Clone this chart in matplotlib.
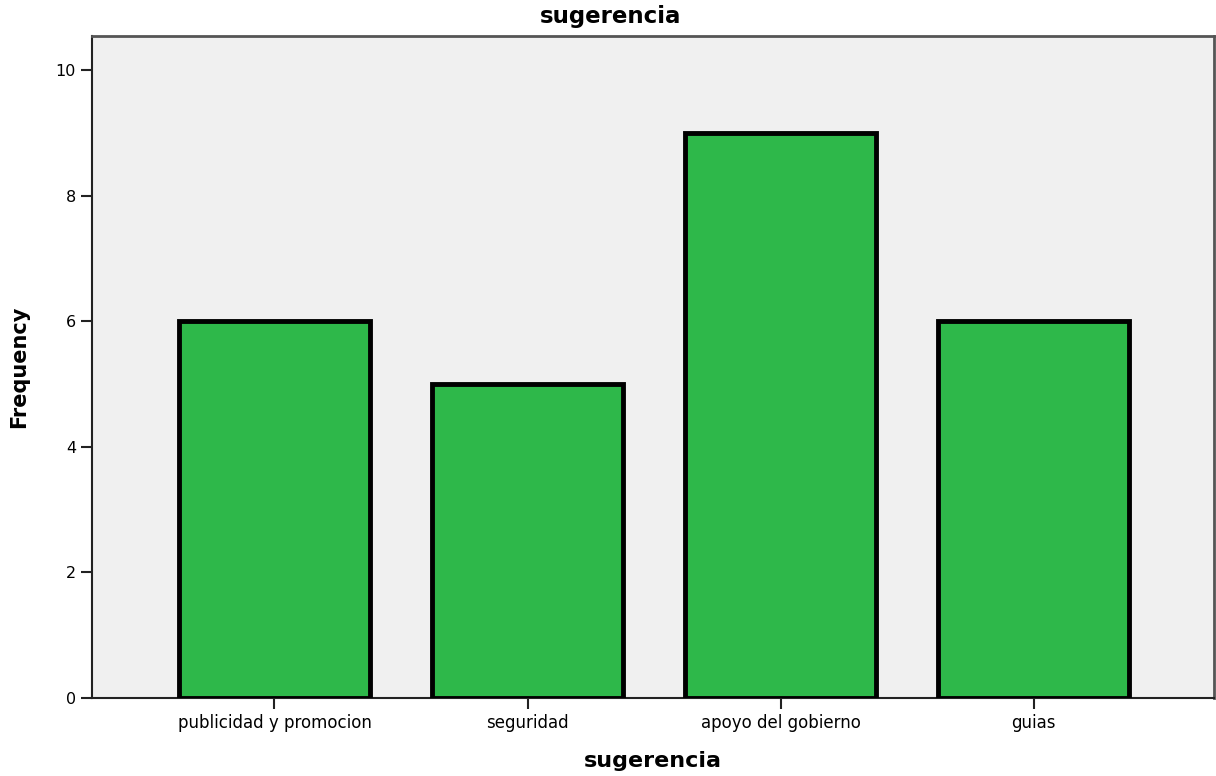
import matplotlib
matplotlib.use("Agg")
import matplotlib.pyplot as plt

# datos
categorias = ["publicidad y promocion", "seguridad", "apoyo del gobierno", "guias"]
frecuencias = [6, 5, 9, 6]
ticks_y = [0, 2, 4, 6, 8, 10]

plt.rcParams['font.family'] = ['DejaVu Sans']

fig = plt.figure(figsize=(12.16, 7.76), dpi=100)
ax = fig.add_axes([0.0757, 0.1005, 0.9227, 0.8531])
ax.set_facecolor("#f0f0f0")

pos = list(range(len(categorias)))
ax.bar(pos, frecuencias, width=0.755, color="#2eb84a", edgecolor="black", linewidth=3.5, zorder=3)

ax.set_xlim(-0.721, 3.713)
ax.set_ylim(0, 10.54)
ax.set_xticks(pos)
ax.set_xticklabels(categorias, fontsize=12)
ax.set_yticks(ticks_y)
ax.set_yticklabels([str(t) for t in ticks_y], fontsize=11.5)
ax.tick_params(axis='both', direction='out', length=8, width=1.5, color="#222222")

for lado in ['left', 'bottom']:
    ax.spines[lado].set_color("#222222")
    ax.spines[lado].set_linewidth(1.5)
for lado in ['top', 'right']:
    ax.spines[lado].set_color("#555555")
    ax.spines[lado].set_linewidth(2)

# el titulo va centrado en la figura, no en los ejes
fig.text(0.502, 0.979, "sugerencia", fontsize=16.5, fontweight='bold', ha='center', va='center')
ax.set_xlabel("sugerencia", fontsize=16, fontweight='bold', labelpad=14)
ax.set_ylabel("Frequency", fontsize=15, fontweight='bold')
ax.yaxis.set_label_coords(-0.056, 0.5)

fig.savefig("out.png", dpi=100)
